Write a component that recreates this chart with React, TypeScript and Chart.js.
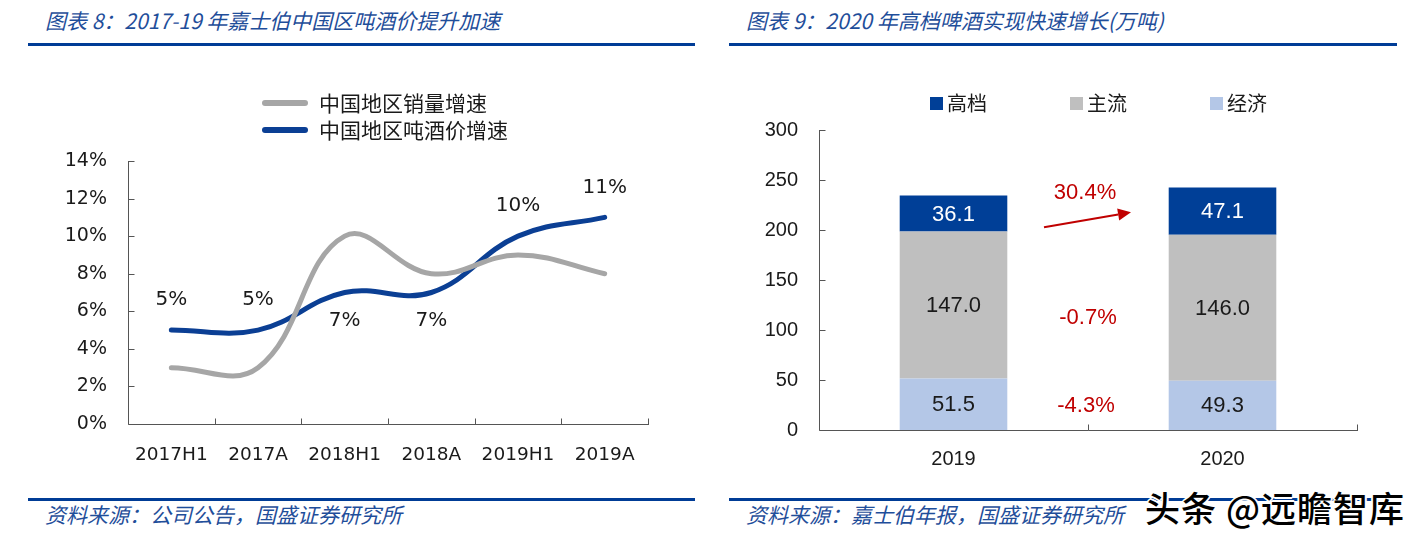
import React, { useEffect, useRef } from "react";
import { Chart, registerables } from "chart.js";

Chart.register(...registerables);

// ---------- Left chart data ----------
const periods = ["2017H1", "2017A", "2018H1", "2018A", "2019H1", "2019A"];
const volumeGrowth = [3, 3, 10, 8, 9, 8];
const priceGrowth = [5, 5, 7, 7, 10, 11];
const priceLabels = ["5%", "5%", "7%", "7%", "10%", "11%"];
const priceLabelSide = ["above", "above", "below", "below", "above", "above"];
const leftSeriesNames = ["中国地区销量增速", "中国地区吨酒价增速"];
const leftYMax = 14;
const leftYStep = 2;

// ---------- Right chart data ----------
const years = ["2019", "2020"];
const economy = [51.5, 49.3];
const mainstream = [147.0, 146.0];
const premium = [36.1, 47.1];
const segmentNames = ["高档", "主流", "经济"];
const growthPremium = "30.4%";
const growthMainstream = "-0.7%";
const growthEconomy = "-4.3%";
const rightYMax = 300;
const rightYStep = 50;

// ---------- Styles ----------
const FONT_L = "'DejaVu Sans', Verdana, sans-serif";
const FONT_R = "'Liberation Sans', Arial, sans-serif";
const FONT_CJK = "'Noto Sans CJK SC', sans-serif";
const BLUE_TXT = "#1F4E9A";
const GRAY_LINE = "#A6A6A6";
const BLUE_LINE = "#0B3F94";
const C_PREMIUM = "#003F97";
const C_MAIN = "#BFBFBF";
const C_ECON = "#B4C7E7";
const RED = "#C00000";
const AXIS = "#555555";

const axisPlugin = {
  id: "axisTicks",
  afterDraw(chart: any, _a: any, opts: any) {
    const { ctx, chartArea: a, scales } = chart;
    const x = scales.x;
    const y = scales.y;
    const len = opts.len ?? 6;
    ctx.save();
    ctx.strokeStyle = opts.color || AXIS;
    ctx.lineWidth = 1;
    ctx.beginPath();
    const lx = Math.round(a.left) + 0.5;
    const by = Math.round(a.bottom) + 0.5;
    ctx.moveTo(lx, Math.round(a.top));
    ctx.lineTo(lx, by);
    ctx.lineTo(Math.round(a.right) + 1, by);
    y.ticks.forEach((t: any) => {
      const py = Math.round(y.getPixelForValue(t.value)) + 0.5;
      ctx.moveTo(lx, py);
      ctx.lineTo(lx + len, py);
    });
    const n = x.getLabels().length;
    for (let i = 1; i <= n; i++) {
      const px = Math.round(x.getPixelForValue(i - 0.5)) + 0.5;
      ctx.moveTo(px, by);
      ctx.lineTo(px, by - len);
    }
    ctx.stroke();
    ctx.restore();
  },
};

const leftDecorPlugin = {
  id: "leftDecor",
  afterDraw(chart: any) {
    const { ctx } = chart;
    ctx.save();
    // legend
    const ds = chart.data.datasets;
    ds.forEach((d: any, i: number) => {
      const yy = 43 + i * 27;
      ctx.strokeStyle = d.borderColor;
      ctx.lineWidth = 6;
      ctx.lineCap = "round";
      ctx.beginPath();
      ctx.moveTo(247, yy);
      ctx.lineTo(287, yy);
      ctx.stroke();
      ctx.fillStyle = "#1a1a1a";
      ctx.font = `21px ${FONT_CJK}`;
      ctx.textBaseline = "middle";
      ctx.textAlign = "left";
      ctx.fillText(leftSeriesNames[i], 301, yy);
    });
    // data labels for price series
    const meta = chart.getDatasetMeta(1);
    ctx.fillStyle = "#1a1a1a";
    ctx.font = `20px ${FONT_L}`;
    ctx.textAlign = "center";
    ctx.textBaseline = "middle";
    meta.data.forEach((el: any, i: number) => {
      const dy = priceLabelSide[i] === "above" ? -30 : 28;
      ctx.fillText(priceLabels[i], el.x, el.y + dy);
    });
    ctx.restore();
  },
};

const rightDecorPlugin = {
  id: "rightDecor",
  afterDraw(chart: any) {
    const { ctx, scales } = chart;
    ctx.save();
    // legend (order: premium, main, economy)
    const colors = [C_PREMIUM, C_MAIN, C_ECON];
    segmentNames.forEach((name, i) => {
      const sx = 219 + i * 140;
      ctx.fillStyle = colors[i];
      ctx.fillRect(sx, 37, 13, 13);
      ctx.fillStyle = "#1a1a1a";
      ctx.font = `20px ${FONT_CJK}`;
      ctx.textAlign = "left";
      ctx.textBaseline = "middle";
      ctx.fillText(name, sx + 17, 43);
    });
    // value labels
    ctx.font = `22px ${FONT_R}`;
    ctx.textAlign = "center";
    ctx.textBaseline = "middle";
    const centers: number[][] = [];
    chart.data.datasets.forEach((d: any, di: number) => {
      const meta = chart.getDatasetMeta(di);
      centers[di] = [];
      meta.data.forEach((el: any, i: number) => {
        const cy = (el.y + el.base) / 2;
        centers[di].push(cy);
        ctx.fillStyle = di === 2 ? "#ffffff" : "#1a1a1a";
        ctx.fillText(Number(d.data[i]).toFixed(1), el.x, cy + 1);
      });
    });
    // growth annotations
    const mid = (scales.x.getPixelForValue(0) + scales.x.getPixelForValue(1)) / 2;
    const avg = (arr: number[]) => (arr[0] + arr[1]) / 2;
    ctx.fillStyle = RED;
    const yE = avg(centers[0]);
    const yM = avg(centers[1]);
    const yP = avg(centers[2]);
    ctx.fillText(growthEconomy, mid - 2, yE + 1);
    ctx.fillText(growthMainstream, mid, yM + 12);
    ctx.fillText(growthPremium, mid - 3, yP - 19);
    // arrow
    const x0 = mid - 44, y0 = yP + 15, x1 = mid + 43, y1 = yP;
    const ang = Math.atan2(y1 - y0, x1 - x0);
    const hl = 13, hw = 6;
    const bx = x1 - hl * Math.cos(ang), by = y1 - hl * Math.sin(ang);
    ctx.strokeStyle = RED;
    ctx.lineWidth = 2;
    ctx.beginPath();
    ctx.moveTo(x0, y0);
    ctx.lineTo(bx, by);
    ctx.stroke();
    ctx.beginPath();
    ctx.moveTo(x1, y1);
    ctx.lineTo(bx + hw * Math.sin(ang), by - hw * Math.cos(ang));
    ctx.lineTo(bx - hw * Math.sin(ang), by + hw * Math.cos(ang));
    ctx.closePath();
    ctx.fill();
    ctx.restore();
  },
};

function LeftChart() {
  const ref = useRef<HTMLCanvasElement>(null);
  useEffect(() => {
    const chart = new Chart(ref.current as HTMLCanvasElement, {
      type: "line",
      data: {
        labels: periods,
        datasets: [
          {
            label: leftSeriesNames[0],
            data: volumeGrowth,
            borderColor: GRAY_LINE,
            borderWidth: 5,
            pointRadius: 0,
            tension: 0.4,
            borderCapStyle: "round",
          },
          {
            label: leftSeriesNames[1],
            data: priceGrowth,
            borderColor: BLUE_LINE,
            borderWidth: 5,
            pointRadius: 0,
            tension: 0.4,
            borderCapStyle: "round",
          },
        ],
      },
      options: {
        responsive: false,
        maintainAspectRatio: false,
        animation: false,
        layout: { padding: { left: 0, right: 50, top: 101, bottom: 0 } },
        plugins: {
          legend: { display: false },
          tooltip: { enabled: false },
          axisTicks: { len: 6, color: AXIS },
        } as any,
        scales: {
          x: {
            type: "category",
            offset: true,
            grid: { display: false, drawTicks: false },
            border: { display: false },
            ticks: {
              font: { family: FONT_L, size: 18.5 },
              color: "#1a1a1a",
              padding: 20,
              maxRotation: 0,
              autoSkip: false,
            },
            afterFit: (s: any) => {
              s.height = 56;
            },
          },
          y: {
            min: 0,
            max: leftYMax,
            grid: { display: false, drawTicks: false },
            border: { display: false },
            ticks: {
              stepSize: leftYStep,
              font: { family: FONT_L, size: 19 },
              color: "#1a1a1a",
              padding: 21,
              callback: (v: any) => `${v}%`,
            },
            afterFit: (s: any) => {
              s.width = 110;
            },
          },
        },
      },
      plugins: [axisPlugin, leftDecorPlugin],
    } as any);
    return () => chart.destroy();
  }, []);
  return (
    <canvas
      ref={ref}
      width={680}
      height={420}
      style={{ position: "absolute", left: 18, top: 60, width: 680, height: 420 }}
    />
  );
}

function RightChart() {
  const ref = useRef<HTMLCanvasElement>(null);
  useEffect(() => {
    const common = { barPercentage: 0.8, categoryPercentage: 0.5, borderWidth: 0 };
    const chart = new Chart(ref.current as HTMLCanvasElement, {
      type: "bar",
      data: {
        labels: years,
        datasets: [
          { label: segmentNames[2], data: economy, backgroundColor: C_ECON, ...common },
          { label: segmentNames[1], data: mainstream, backgroundColor: C_MAIN, ...common },
          { label: segmentNames[0], data: premium, backgroundColor: C_PREMIUM, ...common },
        ],
      },
      options: {
        responsive: false,
        maintainAspectRatio: false,
        animation: false,
        layout: { padding: { left: 0, right: 54, top: 70, bottom: 0 } },
        plugins: {
          legend: { display: false },
          tooltip: { enabled: false },
          axisTicks: { len: 6, color: AXIS },
        } as any,
        scales: {
          x: {
            stacked: true,
            grid: { display: false, drawTicks: false },
            border: { display: false },
            ticks: {
              font: { family: FONT_R, size: 20 },
              color: "#1a1a1a",
              padding: 17,
              maxRotation: 0,
            },
            afterFit: (s: any) => {
              s.height = 50;
            },
          },
          y: {
            stacked: true,
            min: 0,
            max: rightYMax,
            grid: { display: false, drawTicks: false },
            border: { display: false },
            ticks: {
              stepSize: rightYStep,
              font: { family: FONT_R, size: 20 },
              color: "#1a1a1a",
              padding: 21,
            },
            afterFit: (s: any) => {
              s.width = 108;
            },
          },
        },
      },
      plugins: [axisPlugin, rightDecorPlugin],
    } as any);
    return () => chart.destroy();
  }, []);
  return (
    <canvas
      ref={ref}
      width={700}
      height={420}
      style={{ position: "absolute", left: 711, top: 60, width: 700, height: 420 }}
    />
  );
}

const titleStyle: React.CSSProperties = {
  position: "absolute",
  fontFamily: FONT_CJK,
  fontStyle: "italic",
  fontSize: 21,
  color: BLUE_TXT,
  whiteSpace: "nowrap",
  lineHeight: "26px",
};

const ruleStyle = (left: number, top: number, width: number): React.CSSProperties => ({
  position: "absolute",
  left,
  top,
  width,
  height: 3,
  background: "#003C96",
});

export default function App() {
  useEffect(() => {
    document.body.style.margin = "0";
  }, []);
  return (
    <div
      style={{
        position: "fixed",
        left: 0,
        top: 0,
        width: 1423,
        height: 541,
        background: "#ffffff",
        overflow: "hidden",
      }}
    >
      <div style={{ ...titleStyle, left: 45, top: 7 }}>图表 8：2017-19 年嘉士伯中国区吨酒价提升加速</div>
      <div style={{ ...titleStyle, left: 746, top: 7 }}>图表 9：2020 年高档啤酒实现快速增长(万吨)</div>
      <div style={ruleStyle(28, 43, 667)} />
      <div style={ruleStyle(729, 43, 668)} />
      <LeftChart />
      <RightChart />
      <div style={ruleStyle(28, 498, 667)} />
      <div style={ruleStyle(729, 498, 668)} />
      <div style={{ ...titleStyle, left: 45, top: 501 }}>资料来源：公司公告，国盛证券研究所</div>
      <div style={{ ...titleStyle, left: 746, top: 501 }}>资料来源：嘉士伯年报，国盛证券研究所</div>
      <div
        style={{
          position: "absolute",
          left: 1145,
          top: 488,
          fontFamily: FONT_CJK,
          fontSize: 35,
          fontWeight: 500,
          letterSpacing: 1,
          color: "#000",
          whiteSpace: "nowrap",
          lineHeight: "38px",
          textShadow:
            "1px 1px 0 #fff, -1px -1px 0 #fff, 1px -1px 0 #fff, -1px 1px 0 #fff, 2px 0 0 #fff, -2px 0 0 #fff, 0 2px 0 #fff, 0 -2px 0 #fff",
        }}
      >
        头条 @远瞻智库
      </div>
    </div>
  );
}
